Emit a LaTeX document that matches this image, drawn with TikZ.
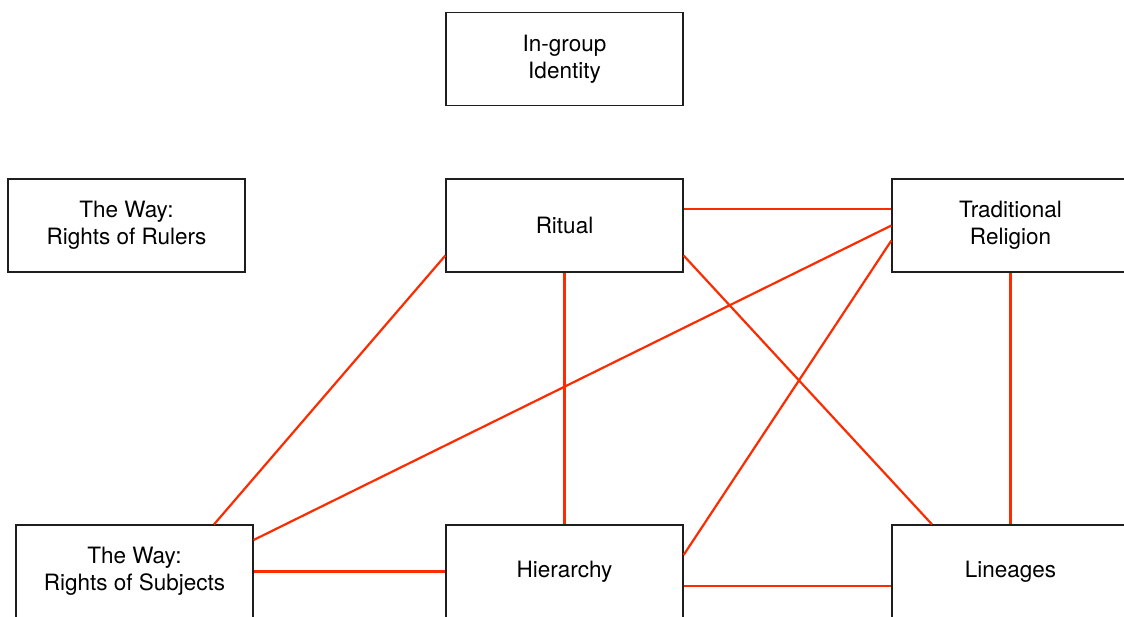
\documentclass[tikz,border=0pt]{standalone}
\usepackage{fontspec}
\setmainfont{TeX Gyre Heros}
\usepackage{tikz}
\definecolor{linkred}{RGB}{252, 44, 0}
\definecolor{boxline}{RGB}{30, 30, 30}

\begin{document}
\begin{tikzpicture}[x=1pt, y=-1pt,
    box/.style={draw=boxline, line width=1.2pt, minimum width=237pt, minimum height=93pt,
        inner sep=0pt, align=center, font=\fontsize{22.5}{27}\selectfont},
    link/.style={draw=linkred, line width=2.2pt}]
        % 画布 (裁剪)
        \clip (0, 0) rectangle (1124, 616);

        % 方框
        \node[box] (idn) at (564.5, 59) {In-group\\Identity};
        \node[box] (rul) at (126.5, 225.5) {The Way:\\Rights of Rulers};
        \node[box] (rit) at (564.5, 225.5) {Ritual};
        \node[box] (rel) at (1010.5, 225.5) {Traditional\\Religion};
        \node[box] (sub) at (134.5, 571.5) {The Way:\\Rights of Subjects};
        \node[box] (hie) at (564.5, 571.5) {Hierarchy};
        \node[box] (lin) at (1010.5, 571.5) {Lineages};

        % 连线
        \draw[link] ([yshift=16.5pt]rit.east) -- ([yshift=16.5pt]rel.west);
        \draw[link] (rel.west) -- ([yshift=31.5pt]sub.east);
        \draw[link] ([yshift=-15pt]rel.west) -- ([yshift=16.5pt]hie.east);
        \draw[link] ([yshift=-30pt]rit.east) -- ([xshift=-78.5pt]lin.north);
        \draw[link] (rit.south) -- (hie.north);
        \draw[link] ([yshift=-30pt]rit.west) -- ([xshift=79.5pt]sub.north);
        \draw[link] (rel.south) -- (lin.north);
        \draw[link] (sub.east) -- (hie.west);
        \draw[link] ([yshift=-14.5pt]hie.east) -- ([yshift=-14.5pt]lin.west);

    \end{tikzpicture}
\end{document}
